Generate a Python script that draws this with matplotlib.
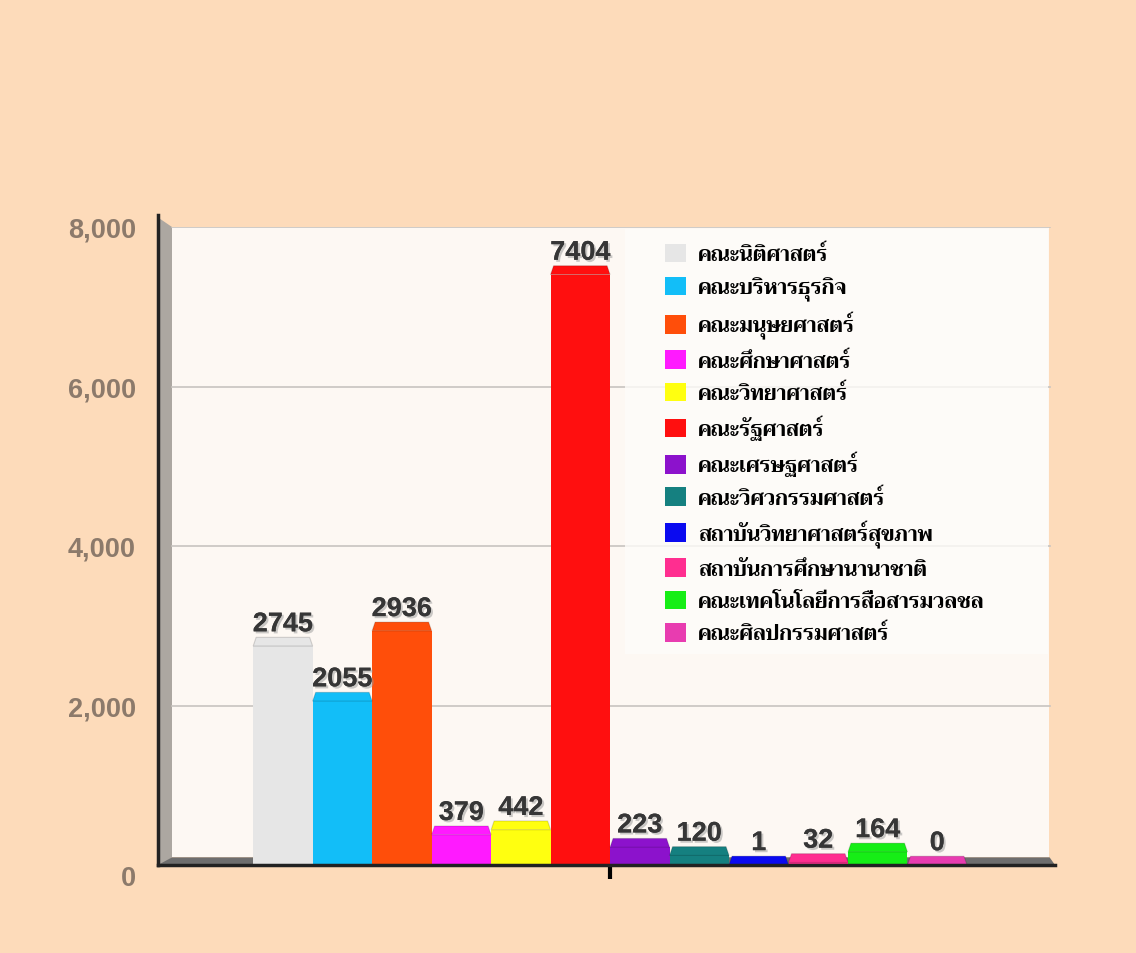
import matplotlib
matplotlib.use("Agg")
import matplotlib.pyplot as plt
import matplotlib.patheffects as pe
from matplotlib import font_manager
from matplotlib.ft2font import FT2Font
from matplotlib.patches import Rectangle, Polygon
from matplotlib.transforms import ScaledTranslation

# Data
faculties = [
    "คณะนิติศาสตร์",
    "คณะบริหารธุรกิจ",
    "คณะมนุษยศาสตร์",
    "คณะศึกษาศาสตร์",
    "คณะวิทยาศาสตร์",
    "คณะรัฐศาสตร์",
    "คณะเศรษฐศาสตร์",
    "คณะวิศวกรรมศาสตร์",
    "สถาบันวิทยาศาสตร์สุขภาพ",
    "สถาบันการศึกษานานาชาติ",
    "คณะเทคโนโลยีการสื่อสารมวลชล",
    "คณะศิลปกรรมศาสตร์",
]
students = [2745, 2055, 2936, 379, 442, 7404, 223, 120, 1, 32, 164, 0]
colors = [
    "#e6e6e6", "#12bef8", "#ff4e0a", "#ff1aff", "#ffff10", "#ff0f0f",
    "#8c12cc", "#158080", "#0a0af0", "#ff2e90", "#16ee16", "#e83cb0",
]
y_ticks = [0, 2000, 4000, 6000, 8000]


def thai_family():
    # find an installed font that actually has Thai glyphs
    found = None
    for f in font_manager.fontManager.ttflist:
        try:
            if FT2Font(f.fname).get_char_index(ord("ก")):
                if found is None or f.weight in ("bold", 700):
                    found = f.name
        except Exception:
            pass
    return found or "DejaVu Sans"


THAI = thai_family()
BG = "#fddbba"
PANEL = "#fdf8f3"

fig = plt.figure(figsize=(11.36, 9.54), dpi=100, facecolor=BG)
ax = fig.add_axes([158 / 1136, 1 - 866 / 954, 897 / 1136, 638 / 954])
ax.set_facecolor(BG)
ax.set_xlim(-7.6, 7.48)
ax.set_ylim(0, 8000)

# back panel, left wall and floor (fake 3D)
ax.add_patch(Rectangle((0.0156, 0.012), 0.978, 0.99, transform=ax.transAxes,
                       facecolor=PANEL, edgecolor="none", zorder=0))
ax.add_patch(Polygon([(0, -0.004), (0.0156, 0.012), (0.0156, 1.0), (0, 1.015)],
                     transform=ax.transAxes, facecolor="#aca7a1",
                     edgecolor="none", zorder=0.5, clip_on=False))
ax.add_patch(Polygon([(0, 0), (0.0156, 0.012), (0.994, 0.012), (1.0, 0)],
                     transform=ax.transAxes, facecolor="#6e6e6e",
                     edgecolor="none", zorder=0.5))

for t in y_ticks[1:]:
    ax.plot([0.0156, 0.994], [t, t], transform=ax.get_yaxis_transform(),
            color="#c8c4c0", lw=1.2, zorder=0.8)

# legend backdrop
ax.add_patch(Rectangle((625 / 1136, 1 - 655 / 954), 423 / 1136, 425 / 954,
                       transform=fig.transFigure, facecolor="#fefcfa",
                       alpha=0.8, edgecolor="none", zorder=1))

# bars
n = len(students)
offsets = [i - (n - 1) / 2 for i in range(n)]
bars = ax.bar(offsets, students, width=1.0, color=colors, label=faculties,
              edgecolor="none", zorder=2)
cap = 110
for b, c in zip(bars, colors):
    x0, w, h = b.get_x(), b.get_width(), b.get_height()
    ax.add_patch(Polygon([(x0, h), (x0 + w, h), (x0 + w - 0.05, h + cap),
                          (x0 + 0.05, h + cap)],
                         facecolor=c, edgecolor=(0, 0, 0, 0.15), lw=0.8,
                         zorder=2.1))
    ax.annotate(str(int(h)), (x0 + w / 2, h + cap), xytext=(0, 0),
                textcoords="offset points", ha="center", va="bottom",
                fontsize=19.5, fontweight="bold", color="#363636",
                family="Liberation Sans", zorder=5,
                path_effects=[pe.withSimplePatchShadow(offset=(1.5, -1.5),
                                                       shadow_rgbFace="#999999",
                                                       alpha=0.5),
                              pe.Normal()])

# axes lines
for s in ("top", "right"):
    ax.spines[s].set_visible(False)
ax.spines["left"].set_color("#222222")
ax.spines["left"].set_linewidth(2.5)
ax.spines["left"].set_bounds(0, 8150)
ax.spines["bottom"].set_color("#222222")
ax.spines["bottom"].set_linewidth(2.5)

ax.set_xticks([0])
ax.set_xticklabels([""])
ax.tick_params(axis="x", length=10, width=3, color="black", direction="out")
ax.set_yticks(y_ticks)
ax.set_yticklabels([f"{t:,}" for t in y_ticks])
ax.tick_params(axis="y", length=0, pad=16, labelsize=19.5, labelcolor="#8c7a6b")
for lbl in ax.get_yticklabels():
    lbl.set_fontweight("bold")
    lbl.set_family("Liberation Sans")
# the "0" label sits a little lower, below the floor
zero = ax.yaxis.get_major_ticks()[0].label1
zero.set_transform(zero.get_transform() + ScaledTranslation(0, -0.1, fig.dpi_scale_trans))

# legend
leg = ax.legend(loc="upper left", bbox_to_anchor=(646 / 1136, 1 - 226 / 954),
                bbox_transform=fig.transFigure, frameon=False,
                prop={"family": [THAI, "DejaVu Sans"], "size": 15, "weight": "bold"},
                handlelength=1.0, handleheight=1.0, handletextpad=0.6,
                labelspacing=0.52)
leg.set_zorder(6)

fig.savefig("out.png", dpi=100, facecolor=BG)
